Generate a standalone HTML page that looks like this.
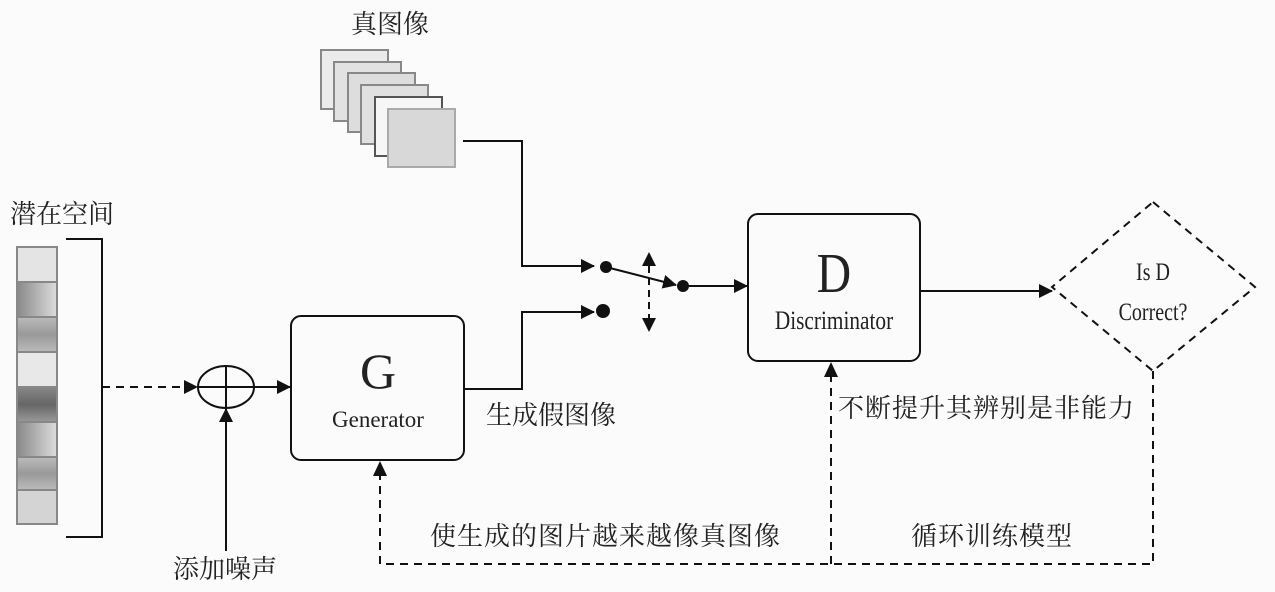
<!DOCTYPE html>
<html><head><meta charset="utf-8"><style>
html,body{margin:0;padding:0;background:#fbfbfb;}
svg{display:block}
.cj{font-family:"Liberation Serif","Noto Serif CJK SC","Noto Sans CJK SC",serif;font-size:26px;fill:#222}
.lt{font-family:"Liberation Serif",serif;fill:#222}
</style></head><body>
<svg width="1275" height="592" viewBox="0 0 1275 592" xmlns="http://www.w3.org/2000/svg">
<defs>
<marker id="b" markerWidth="14" markerHeight="14" refX="13" refY="7" orient="auto" markerUnits="userSpaceOnUse" viewBox="0 0 14 14"><path d="M0,0 L14,7 L0,14 z" fill="#111"/></marker>
<linearGradient id="g1" x1="0" x2="1"><stop offset="0" stop-color="#888"/><stop offset="1" stop-color="#ddd"/></linearGradient>
<linearGradient id="g2" x1="0" y1="0" x2="0" y2="1"><stop offset="0" stop-color="#bbb"/><stop offset="0.5" stop-color="#999"/><stop offset="1" stop-color="#bbb"/></linearGradient>
<linearGradient id="g3" x1="0" y1="0" x2="0" y2="1"><stop offset="0" stop-color="#888"/><stop offset="0.5" stop-color="#666"/><stop offset="1" stop-color="#999"/></linearGradient>
</defs>
<rect width="1275" height="592" fill="#fbfbfb"/>

<text class="cj" x="390" y="33" text-anchor="middle">真图像</text>
<g stroke="#888" stroke-width="2">
<rect x="321" y="50" width="67" height="59" fill="#ebebeb"/>
<rect x="334" y="62" width="67" height="59" fill="#e2e2e2"/>
<rect x="348" y="73" width="67" height="59" fill="#dddddd"/>
<rect x="361" y="85" width="67" height="59" fill="#e0e0e0"/>
<rect x="375" y="97" width="67" height="59" fill="#f6f6f6" stroke="#555"/>
<rect x="388" y="109" width="67" height="58" fill="#d8d8d8" stroke="#aaa"/>
</g>
<polyline points="463,141 522,141 522,266 594,266" fill="none" stroke="#111" stroke-width="2" marker-end="url(#b)"/>

<text class="cj" x="10" y="223">潜在空间</text>
<g stroke="#888" stroke-width="2">
<rect x="17" y="247" width="40" height="35" fill="#e4e4e4"/>
<rect x="17" y="282" width="40" height="35" fill="url(#g1)"/>
<rect x="17" y="317" width="40" height="35" fill="url(#g2)"/>
<rect x="17" y="352" width="40" height="35" fill="#e8e8e8"/>
<rect x="17" y="387" width="40" height="35" fill="url(#g3)"/>
<rect x="17" y="422" width="40" height="35" fill="url(#g1)"/>
<rect x="17" y="457" width="40" height="33" fill="url(#g2)"/>
<rect x="17" y="490" width="40" height="34" fill="#d4d4d4"/>
</g>
<polyline points="66,239 102,239 102,537 66,537" fill="none" stroke="#111" stroke-width="2"/>
<line x1="102" y1="387" x2="197" y2="387" stroke="#111" stroke-width="2" stroke-dasharray="8,6" marker-end="url(#b)"/>
<ellipse cx="226" cy="387" rx="28" ry="21" fill="none" stroke="#111" stroke-width="2"/>
<line x1="198" y1="387" x2="254" y2="387" stroke="#111" stroke-width="2"/>
<line x1="226" y1="366" x2="226" y2="408" stroke="#111" stroke-width="2"/>
<line x1="254" y1="387" x2="290" y2="387" stroke="#111" stroke-width="2" marker-end="url(#b)"/>
<line x1="226" y1="551" x2="226" y2="409" stroke="#111" stroke-width="2" marker-end="url(#b)"/>
<text class="cj" x="225" y="578" text-anchor="middle">添加噪声</text>

<rect x="291" y="316" width="173" height="144" rx="10" fill="none" stroke="#111" stroke-width="2"/>
<text class="lt" x="378" y="388" text-anchor="middle" font-size="50">G</text>
<text class="lt" x="378" y="427" text-anchor="middle" font-size="23">Generator</text>
<polyline points="464,389 522,389 522,312 594,312" fill="none" stroke="#111" stroke-width="2" marker-end="url(#b)"/>
<text class="cj" x="486" y="424">生成假图像</text>

<circle cx="606" cy="267" r="6" fill="#111"/>
<circle cx="603" cy="311" r="7" fill="#111"/>
<line x1="606" y1="267" x2="676" y2="285" stroke="#111" stroke-width="2" marker-end="url(#b)"/>
<circle cx="683" cy="286" r="6" fill="#111"/>
<line x1="649" y1="266" x2="649" y2="318" stroke="#111" stroke-width="2" stroke-dasharray="7,5"/>
<path d="M642,266 L649,252 L656,266 z M642,318 L649,332 L656,318 z" fill="#111"/>
<line x1="683" y1="286" x2="747" y2="286" stroke="#111" stroke-width="2" marker-end="url(#b)"/>

<rect x="748" y="214" width="172" height="147" rx="10" fill="none" stroke="#111" stroke-width="2"/>
<text class="lt" x="834" y="292" text-anchor="middle" font-size="56" transform="translate(834,0) scale(0.85,1) translate(-834,0)">D</text>
<text class="lt" x="834" y="329" text-anchor="middle" font-size="26" transform="translate(834,0) scale(0.82,1) translate(-834,0)">Discriminator</text>
<line x1="920" y1="291" x2="1052" y2="291" stroke="#111" stroke-width="2" marker-end="url(#b)"/>

<polygon points="1153,202 1255,287 1153,371 1052,287" fill="none" stroke="#111" stroke-width="2" stroke-dasharray="8,6"/>
<text class="lt" x="1153" y="280" text-anchor="middle" font-size="25" transform="translate(1153,0) scale(0.8,1) translate(-1153,0)">Is D</text>
<text class="lt" x="1153" y="320" text-anchor="middle" font-size="25" transform="translate(1153,0) scale(0.8,1) translate(-1153,0)">Correct?</text>

<polyline points="1153,371 1153,564 380,564 380,474" fill="none" stroke="#111" stroke-width="2" stroke-dasharray="8,6"/>
<path d="M373,476 L380,461 L387,476 z" fill="#111"/>
<line x1="831" y1="564" x2="831" y2="376" stroke="#111" stroke-width="2" stroke-dasharray="8,6"/>
<path d="M824,377 L831,362 L838,377 z" fill="#111"/>
<text class="cj" x="838" y="417" letter-spacing="1">不断提升其辨别是非能力</text>
<text class="cj" x="430" y="545" letter-spacing="1">使生成的图片越来越像真图像</text>
<text class="cj" x="911" y="545" letter-spacing="1">循环训练模型</text>
</svg>
</body></html>
